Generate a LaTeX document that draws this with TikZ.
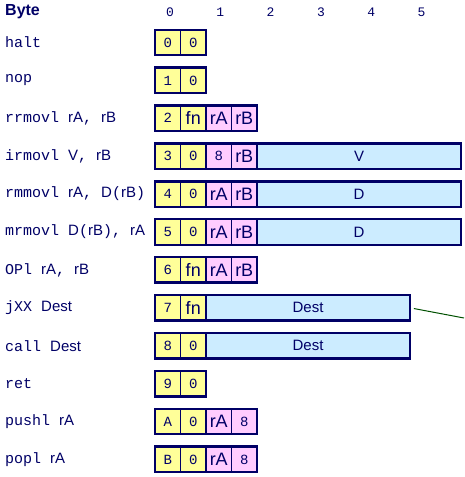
\documentclass[tikz,border=0pt]{standalone}
\usepackage{fontspec}
\setmainfont{Liberation Sans}
\setsansfont{Liberation Sans}
\setmonofont{Liberation Mono}
\usepackage{xcolor}
\usetikzlibrary{positioning}

\definecolor{boxnavy}{RGB}{0,0,102}
\definecolor{codeyellow}{RGB}{255,255,153}
\definecolor{regpink}{RGB}{255,204,255}
\definecolor{wordblue}{RGB}{204,236,255}
\definecolor{linkgreen}{RGB}{0,80,0}

\begin{document}
\begin{tikzpicture}[
		x=1pt, y=-1pt,
		node distance=0pt,
		nib/.style={rectangle, draw=boxnavy, line width=0.8pt, minimum width=25.5pt, minimum height=25.5pt, inner sep=0pt, outer sep=0pt, text=boxnavy},
		code/.style={nib, fill=codeyellow, font=\ttfamily\fontsize{14}{16}\selectfont},
		codefn/.style={nib, fill=codeyellow, font=\sffamily\fontsize{18}{20}\selectfont},
		reg/.style={nib, fill=regpink, font=\sffamily\fontsize{18}{20}\selectfont},
		regnum/.style={nib, fill=regpink, font=\ttfamily\fontsize{14}{16}\selectfont},
		word/.style={rectangle, draw=boxnavy, line width=2.4pt, fill=wordblue, minimum width=204pt, minimum height=25.5pt, inner sep=0pt, outer sep=0pt, text=boxnavy, font=\sffamily\fontsize{15}{18}\selectfont},
		byte/.style={draw=boxnavy, line width=2.4pt},
		instr/.style={anchor=west, inner sep=0pt, text=boxnavy, font=\sffamily\fontsize{15}{18}\selectfont},
		head/.style={inner sep=0pt, text=boxnavy, font=\ttfamily\fontsize{13}{15}\selectfont},
		link/.style={draw=linkgreen, line width=1pt}
		]
		\useasboundingbox (0,0) rectangle (464,477);
		
		% Header
		\node[instr, font=\sffamily\bfseries\fontsize{16}{18}\selectfont] (byte) at (5,12) {Byte};
		\foreach \i in {0,...,5}
			\node[head] (col\i) at ({170+50.3*\i},12) {\i};
		
		% Instruction names
		\node[instr] (lhalt) at (5,42.5) {\texttt{halt}};
		\node[instr] (lnop) at (5,80.4) {\texttt{nop}};
		\node[instr] (lrr) at (5,118.3) {\texttt{rrmovl }rA\texttt{, }rB};
		\node[instr] (lir) at (5,156.2) {\texttt{irmovl }V\texttt{, }rB};
		\node[instr] (lrm) at (5,194.1) {\texttt{rmmovl }rA\texttt{, }D\texttt{(}rB\texttt{)}};
		\node[instr] (lmr) at (5,232) {\texttt{mrmovl }D\texttt{(}rB\texttt{), }rA};
		\node[instr] (lopl) at (5,269.9) {\texttt{OPl }rA\texttt{, }rB};
		\node[instr] (ljxx) at (5,307.8) {\texttt{jXX }Dest};
		\node[instr] (lcall) at (5,345.7) {\texttt{call }Dest};
		\node[instr] (lret) at (5,383.6) {\texttt{ret}};
		\node[instr] (lpush) at (5,421.5) {\texttt{pushl }rA};
		\node[instr] (lpop) at (5,459.4) {\texttt{popl }rA};
		
		% Encodings
		\node[code, anchor=west] (halt0) at (155,42.5) {0};
		\node[code, right=of halt0] (halt1) {0};
		
		\node[code, anchor=west] (nop0) at (155,80.4) {1};
		\node[code, right=of nop0] (nop1) {0};
		
		\node[code, anchor=west] (rr0) at (155,118.3) {2};
		\node[codefn, right=of rr0] (rr1) {fn};
		\node[reg, right=of rr1] (rr2) {rA};
		\node[reg, right=of rr2] (rr3) {rB};
		
		\node[code, anchor=west] (ir0) at (155,156.2) {3};
		\node[code, right=of ir0] (ir1) {0};
		\node[regnum, right=of ir1] (ir2) {8};
		\node[reg, right=of ir2] (ir3) {rB};
		\node[word, right=of ir3] (irv) {V};
		
		\node[code, anchor=west] (rm0) at (155,194.1) {4};
		\node[code, right=of rm0] (rm1) {0};
		\node[reg, right=of rm1] (rm2) {rA};
		\node[reg, right=of rm2] (rm3) {rB};
		\node[word, right=of rm3] (rmd) {D};
		
		\node[code, anchor=west] (mr0) at (155,232) {5};
		\node[code, right=of mr0] (mr1) {0};
		\node[reg, right=of mr1] (mr2) {rA};
		\node[reg, right=of mr2] (mr3) {rB};
		\node[word, right=of mr3] (mrd) {D};
		
		\node[code, anchor=west] (opl0) at (155,269.9) {6};
		\node[codefn, right=of opl0] (opl1) {fn};
		\node[reg, right=of opl1] (opl2) {rA};
		\node[reg, right=of opl2] (opl3) {rB};
		
		\node[code, anchor=west] (jxx0) at (155,307.8) {7};
		\node[codefn, right=of jxx0] (jxx1) {fn};
		\node[word, right=of jxx1] (jxxdest) {Dest};
		
		\node[code, anchor=west] (call0) at (155,345.7) {8};
		\node[code, right=of call0] (call1) {0};
		\node[word, right=of call1] (calldest) {Dest};
		
		\node[code, anchor=west] (ret0) at (155,383.6) {9};
		\node[code, right=of ret0] (ret1) {0};
		
		\node[code, anchor=west] (push0) at (155,421.5) {A};
		\node[code, right=of push0] (push1) {0};
		\node[reg, right=of push1] (push2) {rA};
		\node[regnum, right=of push2] (push3) {8};
		
		\node[code, anchor=west] (pop0) at (155,459.4) {B};
		\node[code, right=of pop0] (pop1) {0};
		\node[reg, right=of pop1] (pop2) {rA};
		\node[regnum, right=of pop2] (pop3) {8};
		
		% Byte outlines
		\foreach \a/\b in {halt0/halt1, nop0/nop1, rr0/rr1, rr2/rr3, ir0/ir1, ir2/ir3,
				rm0/rm1, rm2/rm3, mr0/mr1, mr2/mr3, opl0/opl1, opl2/opl3, jxx0/jxx1,
				call0/call1, ret0/ret1, push0/push1, push2/push3, pop0/pop1, pop2/pop3}
			\draw[byte] (\a.north west) rectangle (\b.south east);
		
		% Link off the page
		\coordinate (offpage) at (464,318);
		\draw[link, shorten <=4pt] (jxxdest.east) -- (offpage);
		
	\end{tikzpicture}
\end{document}
